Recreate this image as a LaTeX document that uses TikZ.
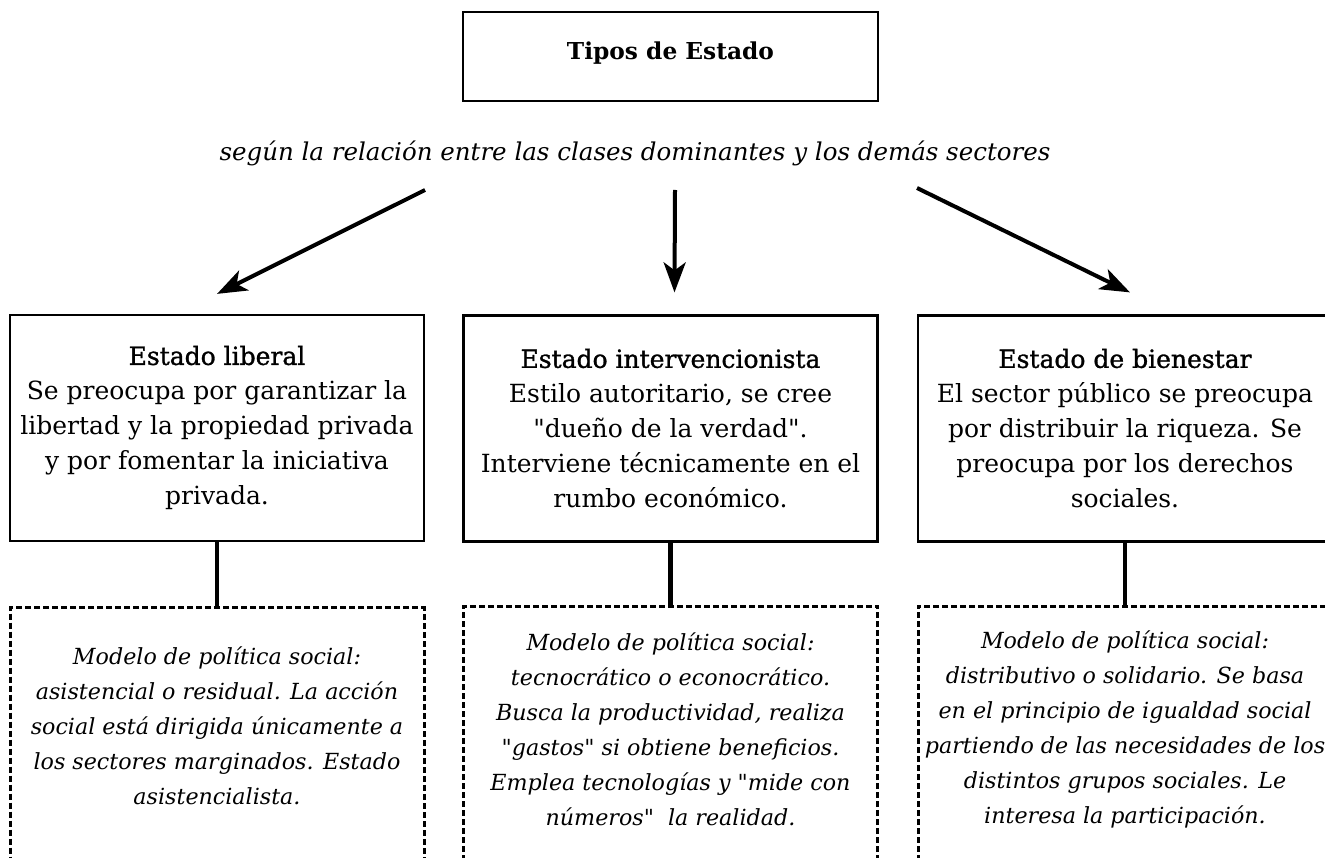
\documentclass[tikz,border=0pt]{standalone}
\usepackage{fontspec}
\setmainfont{DejaVu Serif}[Ligatures=TeXOff]
\newfontfamily\headfont{DejaVu Serif}[Ligatures=TeXOff,FakeBold=1.2]
\usetikzlibrary{arrows.meta,positioning,calc}

\tikzset{
  titulo/.style={draw, line width=2.2pt, minimum width=415pt, minimum height=89pt,
    text depth=12pt, font=\bfseries\fontsize{23.3}{28}\selectfont},
  caja/.style={draw, line width=2.2pt, minimum width=414pt, minimum height=226pt,
    align=center, inner sep=0pt, font=\fontsize{25}{35}\selectfont},
  marco/.style={draw, line width=3pt, dash pattern=on 6pt off 3pt,
    minimum width=414pt, minimum height=300pt},
  modelo/.style={align=center, inner sep=0pt, font=\itshape\fontsize{22.2}{35}\selectfont},
  flecha/.style={-{Stealth[length=30pt,width=22pt,inset=8pt]}, line width=4pt},
  enlace/.style={line width=4.5pt},
}

\begin{document}
\begin{tikzpicture}[x=1pt,y=-1pt]
    \useasboundingbox (0,0) rectangle (1325,858);
    \clip (0,0) rectangle (1325,858);

    \node[titulo] (tipos) at (670.5,56.5) {Tipos de Estado};
    \node[font=\itshape\fontsize{24.5}{30}\selectfont] (criterio) at (635,153)
        {según la relación entre las clases dominantes y los demás sectores};

    % tipos
    \node[caja] (liberal) at (217,428) {{\headfont Estado liberal}\\
        Se preocupa por garantizar la\\ libertad y la propiedad privada\\
        y por fomentar la iniciativa\\ privada.};
    \node[caja] (interv) at (670.5,428.5) {{\headfont Estado intervencionista}\\
        Estilo autoritario, se cree\\ "dueño de la verdad".\\
        Interviene técnicamente en el\\ rumbo económico.};
    \node[caja] (bienestar) at (1125,428.5) {{\headfont Estado de bienestar}\\
        El sector público se preocupa\\ por distribuir la riqueza. Se\\
        preocupa por los derechos\\ sociales.};

    % modelos de politica social
    \node[marco, below=64pt of liberal] (marco1) {};
    \node[marco, below=62pt of interv] (marco2) {};
    \node[marco, below=62pt of bienestar] (marco3) {};
    \node[modelo] (asistencial) at ($(marco1.north)+(0,120)$) {Modelo de política social:\\
        asistencial o residual. La acción\\ social está dirigida únicamente a\\
        los sectores marginados. Estado\\ asistencialista.};
    \node[modelo] (tecnocratico) at ($(marco2.north)+(0,125)$) {Modelo de política social:\\
        tecnocrático o econocrático.\\ Busca la productividad, realiza\\
        "gastos" si obtiene beneficios.\\ Emplea tecnologías y "mide con\\
        números"~ la realidad.};
    \node[modelo] (distributivo) at ($(marco3.north)+(0,125)$) {Modelo de política social:\\
        distributivo o solidario. Se basa\\ en el principio de igualdad social\\
        partiendo de las necesidades de los\\ distintos grupos sociales. Le\\
        interesa la participación.};

    \draw[flecha] ($(criterio.center)+(-210,37)$) -- ($(liberal.north)+(0,-20)$);
    \draw[flecha] ($(criterio.center)+(40,37)$) -- ($(interv.north)+(4,-22)$);
    \draw[flecha] ($(criterio.center)+(282,35)$) -- ($(bienestar.north)+(5,-22)$);

    \draw[enlace] (liberal) -- (marco1);
    \draw[enlace] (interv) -- (marco2);
    \draw[enlace] (bienestar) -- (marco3);
\end{tikzpicture}
\end{document}
